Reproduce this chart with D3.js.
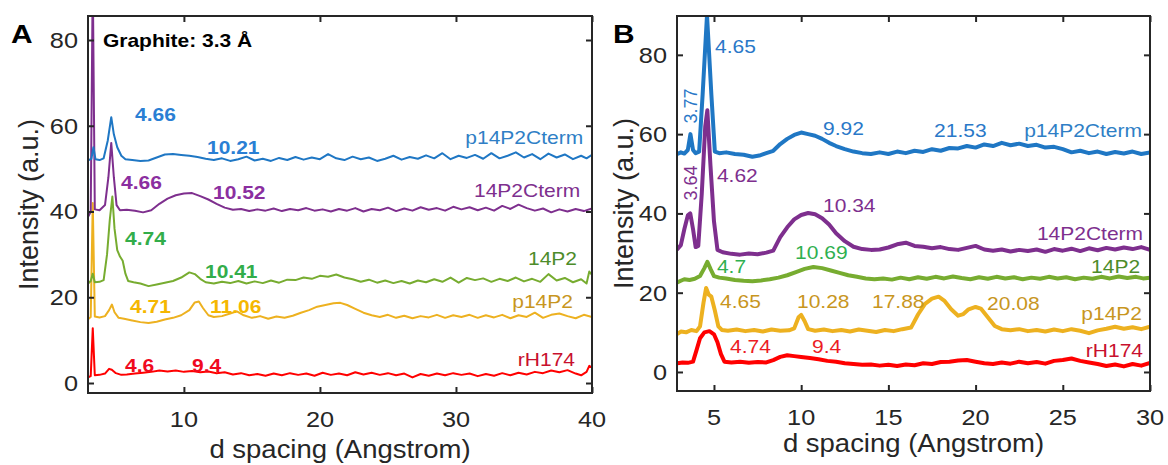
<!DOCTYPE html>
<html>
<head>
<meta charset="utf-8">
<script src="https://cdn.jsdelivr.net/npm/d3@7"></script>
<style>
  body { margin: 0; background: #fff; }
  svg { display: block; font-family: "Liberation Sans", Arial, Helvetica, sans-serif; }
</style>
</head>
<body>
<svg id="chart" width="1168" height="465"></svg>
<script>
// ---- data ----
var seriesNames = ["p14P2Cterm", "14P2Cterm", "14P2", "p14P2", "rH174"];

var aXLim = [2.95, 40], aYLim = [-2.33, 85.6];
var bXLim = [2.88, 30], bYLim = [-4.8, 89.8];
var aXTicks = [10, 20, 30, 40], aYTicks = [0, 20, 40, 60, 80];
var bXTicks = [5, 10, 15, 20, 25, 30], bYTicks = [0, 20, 40, 60, 80];

// panel A : [d spacing, intensity]
var aBlue = [[3.0,52.0],[3.2,52.3],[3.35,55.0],[3.5,52.2],[3.8,52.0],[4.1,52.4],[4.4,56.5],[4.66,62.0],[4.85,58.0],[5.1,55.0],[5.4,53.0],[5.7,52.2],[6.2,52.0],[6.8,51.8],[7.4,51.9],[8.0,52.6],[8.6,53.3],[9.2,53.4],[9.8,53.2],[10.4,53.0],[11.0,52.7],[11.6,52.3],[12.2,52.0],[12.8,52.4],[13.4,51.8],[14.0,52.2],[14.6,52.8],[15.2,51.9],[15.8,52.3],[16.4,51.8],[17.0,52.5],[17.6,52.0],[18.2,52.7],[18.8,52.1],[19.4,52.6],[20.0,52.2],[20.6,53.4],[21.2,52.4],[21.8,52.0],[22.4,52.8],[23.0,52.2],[23.6,52.6],[24.2,51.8],[24.8,52.3],[25.4,53.0],[26.0,52.1],[26.6,52.7],[27.2,52.3],[27.8,53.1],[28.4,52.4],[29.0,53.6],[29.6,52.2],[30.2,53.0],[30.8,52.5],[31.4,53.2],[32.0,52.3],[32.6,53.6],[33.2,52.4],[33.8,53.0],[34.4,53.8],[35.0,52.6],[35.6,53.4],[36.2,52.2],[36.8,53.5],[37.4,52.6],[38.0,53.3],[38.6,52.2],[39.2,53.0],[39.6,52.4],[40.0,53.2]];
var aPurple = [[3.0,39.0],[3.15,40.0],[3.3,95],[3.45,40.5],[3.8,40.3],[4.2,41.5],[4.45,48.0],[4.66,56.0],[4.85,48.0],[5.05,41.5],[5.3,40.3],[5.8,40.4],[6.4,40.2],[7.0,39.8],[7.6,40.3],[8.2,41.8],[8.8,43.0],[9.4,43.8],[10.0,44.2],[10.6,44.3],[11.2,43.6],[11.8,42.8],[12.4,41.8],[13.0,40.9],[13.6,40.4],[14.2,40.6],[14.8,40.1],[15.4,40.5],[16.0,40.2],[16.6,40.7],[17.2,40.1],[17.8,40.6],[18.4,40.3],[19.0,40.8],[19.6,40.2],[20.2,40.5],[20.8,40.0],[21.4,40.6],[22.0,40.2],[22.6,40.8],[23.2,40.0],[23.8,40.6],[24.4,40.3],[25.0,40.9],[25.6,40.1],[26.2,40.7],[26.8,40.2],[27.4,41.0],[28.0,40.4],[28.6,40.8],[29.2,40.2],[29.8,41.1],[30.4,40.5],[31.0,41.0],[31.6,40.3],[32.2,40.9],[32.8,40.2],[33.4,41.3],[34.0,40.6],[34.6,41.6],[35.2,40.8],[35.8,40.2],[36.4,40.7],[37.0,39.8],[37.6,40.5],[38.2,40.0],[38.8,40.6],[39.4,40.1],[40.0,40.7]];
var aGreen = [[3.0,23.3],[3.15,23.8],[3.3,25.5],[3.45,23.5],[3.8,23.6],[4.1,24.0],[4.35,30.0],[4.55,38.0],[4.74,43.5],[4.9,36.0],[5.1,31.0],[5.3,29.5],[5.5,28.5],[5.7,25.5],[5.9,23.8],[6.3,23.5],[6.8,23.2],[7.4,22.6],[8.0,23.0],[8.6,23.4],[9.2,23.8],[9.8,24.6],[10.4,25.8],[10.8,25.4],[11.2,24.3],[11.6,23.5],[12.2,23.2],[12.8,23.6],[13.4,23.3],[14.0,23.8],[14.6,23.2],[15.2,23.7],[15.8,23.3],[16.4,23.9],[17.0,23.4],[17.6,24.1],[18.2,24.0],[18.8,24.6],[19.4,24.3],[20.0,25.0],[20.6,24.8],[21.2,25.3],[21.8,24.6],[22.4,24.2],[23.0,23.6],[23.6,24.1],[24.2,23.4],[24.8,23.9],[25.4,23.3],[26.0,23.8],[26.6,23.2],[27.2,23.9],[27.8,23.5],[28.4,24.2],[29.0,23.6],[29.6,24.6],[30.2,23.4],[30.8,24.5],[31.4,24.0],[32.0,24.4],[32.6,23.6],[33.2,24.3],[33.8,23.8],[34.4,24.6],[35.0,23.7],[35.6,24.3],[36.2,23.6],[36.8,25.4],[37.4,23.9],[38.0,24.5],[38.6,23.5],[39.2,24.2],[39.6,23.2],[39.8,26.0],[40.0,25.2]];
var aYellow = [[3.0,15.0],[3.15,15.4],[3.3,42.0],[3.45,15.5],[3.8,15.3],[4.2,15.6],[4.5,17.0],[4.71,18.3],[4.9,16.5],[5.2,15.2],[5.6,15.0],[6.2,14.6],[6.8,14.2],[7.4,14.0],[8.0,14.3],[8.6,14.8],[9.2,15.2],[9.8,15.8],[10.4,17.0],[10.8,18.8],[11.1,19.0],[11.4,17.5],[11.8,15.8],[12.2,15.4],[12.8,15.6],[13.4,16.2],[13.9,16.7],[14.4,15.8],[15.0,15.2],[15.6,15.6],[16.2,15.0],[16.8,15.5],[17.4,15.2],[18.0,15.7],[18.6,16.4],[19.2,17.0],[19.8,17.8],[20.4,18.2],[21.0,18.6],[21.5,18.7],[22.0,18.2],[22.6,17.3],[23.2,16.4],[23.8,15.8],[24.4,15.4],[25.0,15.9],[25.6,15.2],[26.2,15.7],[26.8,15.1],[27.4,15.6],[28.0,15.3],[28.6,15.9],[29.2,15.2],[29.8,15.8],[30.4,15.4],[31.0,15.9],[31.6,15.2],[32.2,15.8],[32.8,15.3],[33.4,15.9],[34.0,15.1],[34.6,15.8],[35.2,15.4],[35.8,16.4],[36.4,15.2],[37.0,15.9],[37.6,16.2],[38.2,15.6],[38.8,15.1],[39.4,15.9],[40.0,15.4]];
var aRed = [[3.0,1.4],[3.15,1.6],[3.3,12.8],[3.45,1.8],[3.8,1.9],[4.2,2.2],[4.5,3.3],[4.7,3.1],[5.0,2.3],[5.4,1.9],[5.8,2.0],[6.4,2.2],[7.0,2.4],[7.6,2.6],[8.2,2.9],[8.8,2.7],[9.4,2.9],[10.0,2.6],[10.6,2.8],[11.2,2.5],[11.8,2.7],[12.4,2.3],[13.0,2.5],[13.6,2.0],[14.2,2.3],[14.8,1.8],[15.4,2.1],[16.0,1.7],[16.6,2.2],[17.2,1.8],[17.8,2.3],[18.4,1.9],[19.0,2.2],[19.6,1.7],[20.2,2.4],[20.8,1.9],[21.4,2.2],[22.0,1.8],[22.6,2.5],[23.2,2.0],[23.8,2.4],[24.4,1.9],[25.0,2.3],[25.6,1.8],[26.2,2.2],[26.8,1.3],[27.4,2.1],[28.0,1.7],[28.6,2.2],[29.2,1.8],[29.8,2.3],[30.4,1.9],[31.0,2.2],[31.6,1.6],[32.2,2.1],[32.8,1.7],[33.4,2.3],[34.0,1.8],[34.6,2.4],[35.2,2.0],[35.8,2.6],[36.4,2.3],[37.0,2.9],[37.6,2.5],[38.2,3.0],[38.8,2.2],[39.2,1.8],[39.6,2.6],[39.8,4.0],[40.0,3.6]];

// panel B
var bBlue = [[2.9,55.0],[3.1,55.4],[3.3,55.1],[3.5,56.0],[3.65,60.0],[3.8,56.0],[3.95,55.2],[4.15,55.6],[4.35,70.0],[4.6,90.0],[4.85,70.0],[5.05,55.6],[5.3,55.2],[5.7,55.4],[6.2,55.0],[6.7,54.8],[7.2,54.3],[7.6,54.6],[8.0,55.2],[8.4,55.8],[8.8,57.5],[9.2,58.8],[9.6,59.8],[10.0,60.4],[10.4,60.0],[10.8,59.6],[11.2,58.8],[11.6,57.8],[12.0,57.0],[12.5,56.2],[13.0,55.6],[13.5,55.2],[14.0,55.0],[14.5,55.4],[15.0,55.0],[15.5,55.6],[16.0,55.2],[16.5,55.8],[17.0,55.5],[17.5,56.2],[18.0,55.8],[18.5,56.5],[19.0,56.4],[19.5,57.0],[20.0,56.6],[20.5,57.4],[21.0,57.0],[21.5,57.8],[22.0,57.2],[22.5,57.6],[23.0,57.0],[23.5,57.3],[24.0,56.6],[24.5,56.8],[25.0,56.2],[25.5,55.4],[26.0,55.8],[26.5,55.2],[27.0,55.6],[27.5,55.0],[28.0,55.5],[28.5,55.1],[29.0,55.6],[29.5,55.0],[30.0,55.4]];
var bPurple = [[2.9,31.0],[3.1,32.0],[3.3,36.0],[3.5,39.5],[3.64,40.0],[3.8,36.0],[3.95,31.5],[4.1,31.8],[4.3,45.0],[4.5,62.0],[4.62,66.0],[4.8,52.0],[5.0,38.0],[5.2,30.8],[5.5,30.2],[6.0,29.8],[6.5,29.6],[7.0,29.9],[7.5,29.7],[8.0,30.1],[8.4,30.6],[8.8,34.0],[9.2,36.5],[9.6,38.5],[10.0,39.6],[10.4,40.1],[10.8,39.8],[11.2,38.8],[11.6,37.2],[12.0,35.0],[12.5,33.0],[13.0,31.6],[13.5,31.0],[14.0,30.8],[14.5,30.9],[15.0,31.4],[15.5,32.2],[16.0,32.6],[16.5,31.8],[17.0,31.6],[17.5,31.2],[18.0,31.5],[18.5,31.0],[19.0,30.8],[19.5,31.3],[20.0,31.8],[20.5,30.9],[21.0,30.6],[21.5,30.9],[22.0,30.4],[22.5,30.8],[23.0,30.5],[23.5,30.9],[24.0,30.3],[24.5,31.0],[25.0,30.6],[25.5,31.1],[26.0,30.5],[26.5,31.2],[27.0,30.7],[27.5,31.3],[28.0,30.9],[28.5,31.4],[29.0,31.0],[29.5,31.5],[30.0,30.8]];
var bGreen = [[2.9,22.6],[3.1,23.0],[3.3,23.4],[3.6,23.2],[3.9,23.5],[4.2,24.2],[4.45,26.2],[4.62,27.8],[4.8,26.0],[5.0,24.2],[5.3,23.8],[5.7,23.6],[6.2,23.2],[6.7,23.0],[7.2,22.9],[7.7,23.1],[8.2,23.4],[8.7,23.8],[9.2,24.4],[9.7,25.2],[10.2,26.0],[10.7,26.5],[11.2,26.2],[11.7,25.6],[12.2,25.0],[12.7,24.4],[13.2,24.0],[13.7,23.6],[14.2,23.4],[14.7,23.6],[15.2,23.3],[15.7,23.8],[16.2,23.4],[16.7,23.9],[17.2,23.5],[17.7,24.0],[18.2,23.6],[18.7,24.1],[19.2,23.7],[19.7,23.4],[20.2,23.9],[20.7,23.5],[21.2,24.0],[21.7,23.6],[22.2,23.9],[22.7,23.4],[23.2,23.8],[23.7,23.5],[24.2,24.0],[24.7,23.6],[25.2,23.9],[25.7,23.4],[26.2,23.8],[26.7,23.5],[27.2,24.0],[27.7,23.6],[28.2,24.1],[28.7,23.7],[29.2,24.0],[29.6,23.6],[30.0,23.8]];
var bYellow = [[2.9,9.6],[3.1,10.2],[3.4,10.0],[3.7,10.6],[4.0,10.3],[4.2,11.5],[4.4,17.5],[4.55,21.2],[4.7,19.5],[4.85,19.0],[5.05,15.5],[5.25,11.5],[5.45,10.6],[5.8,10.4],[6.3,10.7],[6.8,10.3],[7.3,10.6],[7.8,10.2],[8.3,10.7],[8.8,10.4],[9.3,10.5],[9.6,11.0],[9.85,13.8],[10.0,14.4],[10.2,12.8],[10.4,10.8],[10.8,10.4],[11.3,10.7],[11.8,10.3],[12.3,10.6],[12.8,10.2],[13.3,10.7],[13.8,10.4],[14.3,10.1],[14.8,10.6],[15.3,10.3],[15.8,10.8],[16.3,11.2],[16.7,14.5],[17.1,17.2],[17.5,18.5],[17.88,19.0],[18.2,18.0],[18.6,15.8],[19.0,14.2],[19.3,14.6],[19.6,15.8],[20.0,16.4],[20.3,16.0],[20.7,13.8],[21.1,11.6],[21.5,10.8],[22.0,10.5],[22.5,10.8],[23.0,10.3],[23.5,10.6],[24.0,10.2],[24.5,10.7],[25.0,10.3],[25.5,10.8],[26.0,10.4],[26.5,9.8],[27.0,10.5],[27.5,10.9],[28.0,11.4],[28.5,10.9],[29.0,11.3],[29.5,10.8],[30.0,11.4]];
var bRed = [[2.9,2.2],[3.2,2.4],[3.5,2.3],[3.8,2.6],[4.0,5.5],[4.2,8.5],[4.45,10.0],[4.74,10.3],[5.0,9.5],[5.2,7.5],[5.4,4.5],[5.6,2.6],[6.0,2.4],[6.5,2.6],[7.0,2.3],[7.5,2.5],[8.0,2.4],[8.4,3.0],[8.8,3.8],[9.2,4.2],[9.6,4.0],[10.0,3.8],[10.5,3.5],[11.0,3.2],[11.5,2.8],[12.0,2.6],[12.5,2.2],[13.0,2.0],[13.5,1.8],[14.0,1.9],[14.5,1.6],[15.0,1.8],[15.5,1.5],[16.0,1.9],[16.5,1.7],[17.0,2.2],[17.5,2.0],[18.0,2.5],[18.5,2.6],[19.0,2.9],[19.5,3.0],[20.0,2.6],[20.5,2.2],[21.0,2.0],[21.5,2.4],[22.0,2.1],[22.5,2.6],[23.0,2.2],[23.5,2.5],[24.0,2.1],[24.5,2.8],[25.0,3.0],[25.5,3.4],[26.0,2.8],[26.5,2.4],[27.0,2.0],[27.5,1.5],[28.0,1.9],[28.5,1.4],[29.0,2.0],[29.5,1.6],[30.0,2.3]];

// peak annotations: [text, d spacing, intensity, series index]
var aPeaks = [["4.66",6.41,61.1,0],["10.21",11.7,53.4,0],["4.66",5.38,45.25,1],["10.52",12.14,42.9,1],
  ["4.74",5.67,32.2,2],["10.41",11.55,24.5,2],["4.71",6.04,16.3,3],["11.06",11.92,16.3,3],
  ["4.6",5.67,2.57,4],["9.4",10.6,2.57,4]];
// series name positions (right end): [d spacing, intensity]
var aNamePos = [[39.35,55.75],[39.13,43.4],[38.9,27.5],[38.6,17.5],[38.75,4.0]];

var bPeaks = [["4.65",5.06,80.5,0],["9.92",11.25,59.8,0],["21.53",17.62,59.3,0],
  ["4.62",5.17,47.9,1],["10.34",11.25,40.35,1],
  ["4.7",5.17,25.0,2],["10.69",9.65,28.5,2],
  ["4.65",5.35,16.1,3],["10.28",9.76,16.1,3],["17.88",14.06,16.1,3],["20.08",20.66,15.6,3],
  ["4.74",5.92,4.8,4],["9.4",10.62,4.8,4]];
var bPeaksVertical = [["3.77",4.03,67.1,0],["3.64",4.03,47.7,1]];
var bNamePos = [[29.54,59.3],[29.6,33.3],[29.43,25.0],[29.54,13.1],[29.6,3.8]];

// ---- styles ----
var lineColors = ["#1f77c4", "#7E2F8E", "#77AC30", "#EDB120", "#FF0000"];
var nameColors = ["#2f7fc6", "#7E2F8E", "#4d8c2a", "#c8961e", "#c8102e"];
var aPeakColors = ["#2a7fd4", "#8b2fa0", "#33ad4a", "#f5b700", "#f00a1e"];
var bPeakColors = ["#2a78c8", "#7E2F8E", "#2fb050", "#c8961e", "#ec1c24"];
var axisColor = "#262626";

var svg = d3.select("#chart");

function txt(g, x, y, s, o) {
    var tr = "translate(" + x + "," + y + ")";
    if (o.rot) tr += " rotate(-90)";
    if (o.sx) tr += " scale(" + o.sx + ",1)";
    return g.append("text")
        .attr("transform", tr)
        .attr("font-size", o.size)
        .attr("font-weight", o.bold ? "bold" : "normal")
        .attr("fill", o.fill || axisColor)
        .attr("text-anchor", o.anchor || "start")
        .attr("dy", o.dy || null)
        .text(s);
}

function drawPanel(cfg) {
    var x = d3.scaleLinear().domain(cfg.xLim).range([cfg.left, cfg.right]);
    var y = d3.scaleLinear().domain(cfg.yLim).range([cfg.bottom, cfg.top]);
    var g = svg.append("g");

    g.append("clipPath").attr("id", cfg.id + "clip")
        .append("rect")
        .attr("x", cfg.left).attr("y", cfg.top)
        .attr("width", cfg.right - cfg.left).attr("height", cfg.bottom - cfg.top);

    var line = d3.line().x(function (d) { return x(d[0]); }).y(function (d) { return y(d[1]); });

    var lines = g.append("g").attr("clip-path", "url(#" + cfg.id + "clip)");
    // draw bottom series first so the upper ones sit on top
    cfg.series.slice().reverse().forEach(function (s, k) {
        var i = cfg.series.length - 1 - k;
        lines.append("path")
            .datum(s)
            .attr("d", line)
            .attr("fill", "none")
            .attr("stroke", lineColors[i])
            .attr("stroke-width", cfg.lineWidth)
            .attr("stroke-linejoin", "round")
            .attr("stroke-linecap", "round");
    });

    // ticks on all four sides, pointing inward
    var tk = 6;
    g.append("g").attr("transform", "translate(0," + cfg.bottom + ")")
        .call(d3.axisBottom(x).tickValues(cfg.xTicks).tickSize(-tk).tickFormat(""));
    g.append("g").attr("transform", "translate(0," + cfg.top + ")")
        .call(d3.axisTop(x).tickValues(cfg.xTicks).tickSize(-tk).tickFormat(""));
    g.append("g").attr("transform", "translate(" + cfg.left + ",0)")
        .call(d3.axisLeft(y).tickValues(cfg.yTicks).tickSize(-tk).tickFormat(""));
    g.append("g").attr("transform", "translate(" + cfg.right + ",0)")
        .call(d3.axisRight(y).tickValues(cfg.yTicks).tickSize(-tk).tickFormat(""));
    g.selectAll(".domain").remove();
    g.selectAll(".tick line").attr("stroke", axisColor).attr("stroke-width", 2);

    g.append("rect")
        .attr("x", cfg.left).attr("y", cfg.top)
        .attr("width", cfg.right - cfg.left).attr("height", cfg.bottom - cfg.top)
        .attr("fill", "none").attr("stroke", axisColor).attr("stroke-width", 2);

    // tick labels
    cfg.xTicks.forEach(function (v) {
        txt(g, x(v), cfg.bottom + 34, v, { size: 22, sx: 1.15, anchor: "middle" });
    });
    cfg.yTicks.forEach(function (v) {
        txt(g, cfg.left - 10, y(v), v, { size: 22, sx: 1.15, anchor: "end", dy: "0.36em" });
    });

    // axis titles
    txt(g, (cfg.left + cfg.right) / 2, cfg.xTitleY, "d spacing (Angstrom)", { size: 25, sx: 1.1, anchor: "middle" });
    txt(g, cfg.yTitleX, (cfg.top + cfg.bottom) / 2, "Intensity (a.u.)", { size: 27, rot: true, anchor: "middle" });

    // panel letter
    txt(g, cfg.letterX, 43, cfg.letter, { size: 26, bold: true, sx: 1.15, fill: "#000" });

    // annotations
    cfg.peaks.forEach(function (p) {
        txt(g, x(p[1]), y(p[2]), p[0], { size: 17.5, bold: cfg.boldPeaks, sx: 1.2, fill: cfg.peakColors[p[3]] });
    });
    (cfg.vPeaks || []).forEach(function (p) {
        txt(g, x(p[1]), y(p[2]), p[0], { size: 18, rot: true, anchor: "middle", fill: cfg.peakColors[p[3]] });
    });
    cfg.namePos.forEach(function (p, i) {
        txt(g, x(p[0]), y(p[1]), seriesNames[i], { size: 17.5, sx: 1.2, anchor: "end", fill: nameColors[i] });
    });
    return { g: g, x: x, y: y };
}

var pa = drawPanel({
    id: "a", letter: "A", letterX: 11,
    left: 88, right: 592, top: 16, bottom: 393,
    xLim: aXLim, yLim: aYLim, xTicks: aXTicks, yTicks: aYTicks,
    series: [aBlue, aPurple, aGreen, aYellow, aRed], lineWidth: 2,
    peaks: aPeaks, boldPeaks: true, peakColors: aPeakColors, namePos: aNamePos,
    xTitleY: 458, yTitleX: 38
});
txt(pa.g, pa.x(4.05), pa.y(78.4), "Graphite: 3.3 Å", { size: 17.5, bold: true, sx: 1.2, fill: "#000" });

drawPanel({
    id: "b", letter: "B", letterX: 613,
    left: 677, right: 1150, top: 16, bottom: 391,
    xLim: bXLim, yLim: bYLim, xTicks: bXTicks, yTicks: bYTicks,
    series: [bBlue, bPurple, bGreen, bYellow, bRed], lineWidth: 4,
    peaks: bPeaks, vPeaks: bPeaksVertical, boldPeaks: false, peakColors: bPeakColors, namePos: bNamePos,
    xTitleY: 452, yTitleX: 633
});
</script>
</body>
</html>
